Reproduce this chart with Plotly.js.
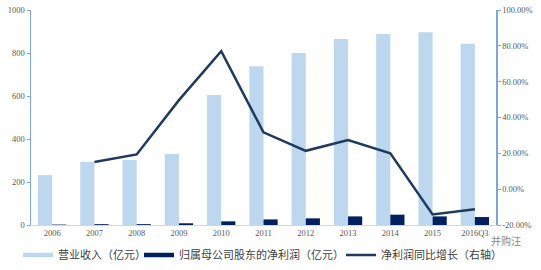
<!DOCTYPE html>
<html><head><meta charset="utf-8">
<script src="https://cdn.plot.ly/plotly-3.0.1.min.js"></script>
<style>html,body{margin:0;padding:0;background:#fff}#c{width:541px;height:270px}</style>
</head><body><div id="c"></div>
<script>
const categories = ["2006","2007","2008","2009","2010","2011","2012","2013","2014","2015","2016Q3"];
const revenue = [232, 294, 302, 330, 605, 738, 800, 865, 888, 897, 843];
const netProfit = [2, 4, 4, 8, 17, 26, 31, 40, 48, 40, 37];
const growth = [null, 15.2, 19.4, 49.7, 77, 31.7, 21.4, 27.4, 20, -14.1, -11.2];
const leftTicks = [0, 200, 400, 600, 800, 1000];
const rightTicks = [-20, 0, 20, 40, 60, 80, 100];
const rightTickText = rightTicks.map(v => v.toFixed(2) + "%");
const seriesNames = ["营业收入（亿元）", "归属母公司股东的净利润（亿元）", "净利润同比增长（右轴）"];
const colors = ["#BDD7EE", "#002060", "#1F3A5F"];

const tickFont = {family: "Liberation Serif, serif", size: 8.5, color: "#595959"};
const legFont = {family: "Noto Sans CJK SC", size: 11, color: "#404040"};
const data = [
  {type: "bar", x: categories, y: revenue, name: seriesNames[0], marker: {color: colors[0]}, showlegend: false},
  {type: "bar", x: categories, y: netProfit, name: seriesNames[1], marker: {color: colors[1]}, showlegend: false},
  {type: "scatter", mode: "lines", x: categories, y: growth, name: seriesNames[2], yaxis: "y2",
   line: {color: colors[2], width: 2.5}, connectgaps: false, legend: "legend3"},
  // legend-only swatches for the bar series (thin horizontal bars as in the reference)
  {type: "scatter", mode: "lines", x: [null], y: [null], name: seriesNames[0],
   line: {color: colors[0], width: 4.5}, legend: "legend", hoverinfo: "skip"},
  {type: "scatter", mode: "lines", x: [null], y: [null], name: seriesNames[1],
   line: {color: colors[1], width: 4.5}, legend: "legend2", hoverinfo: "skip"}
];
function leg(px) {
  return {orientation: "h", xref: "container", yref: "container", x: px / 541, xanchor: "left",
    y: 15 / 270, yanchor: "middle", font: legFont, bgcolor: "rgba(0,0,0,0)"};
}
const layout = {
  width: 541, height: 270,
  margin: {l: 31, r: 45, t: 10, b: 45},
  paper_bgcolor: "#fff", plot_bgcolor: "#fff",
  barmode: "group", bargap: 0.33, bargroupgap: 0,
  showlegend: true,
  legend: leg(18), legend2: leg(139), legend3: leg(341),
  xaxis: {type: "category", categoryarray: categories, categoryorder: "array", tickfont: tickFont,
    showline: true, linecolor: "#C9D9EC", linewidth: 1, ticks: "", showgrid: false, zeroline: false},
  yaxis: {range: [0, 1000], tickvals: leftTicks, tickfont: tickFont, showline: true,
    linecolor: "#7FA7D6", linewidth: 1.5, ticks: "outside", ticklen: 3, tickcolor: "#7FA7D6",
    showgrid: false, zeroline: false},
  yaxis2: {overlaying: "y", side: "right", range: [-20, 100], tickvals: rightTicks,
    ticktext: rightTickText, tickfont: tickFont, showline: true,
    linecolor: "#7FA7D6", linewidth: 1.5, ticks: "outside", ticklen: 3, tickcolor: "#7FA7D6",
    showgrid: false, zeroline: false},
  annotations: [{text: "并购汪", xref: "paper", yref: "paper", x: 1.0215, y: -0.074, xanchor: "center",
    yanchor: "middle", showarrow: false, font: {family: "Noto Sans CJK SC", size: 10, color: "#888"}}]
};
Plotly.newPlot("c", data, layout, {staticPlot: true, displayModeBar: false});
</script></body></html>
